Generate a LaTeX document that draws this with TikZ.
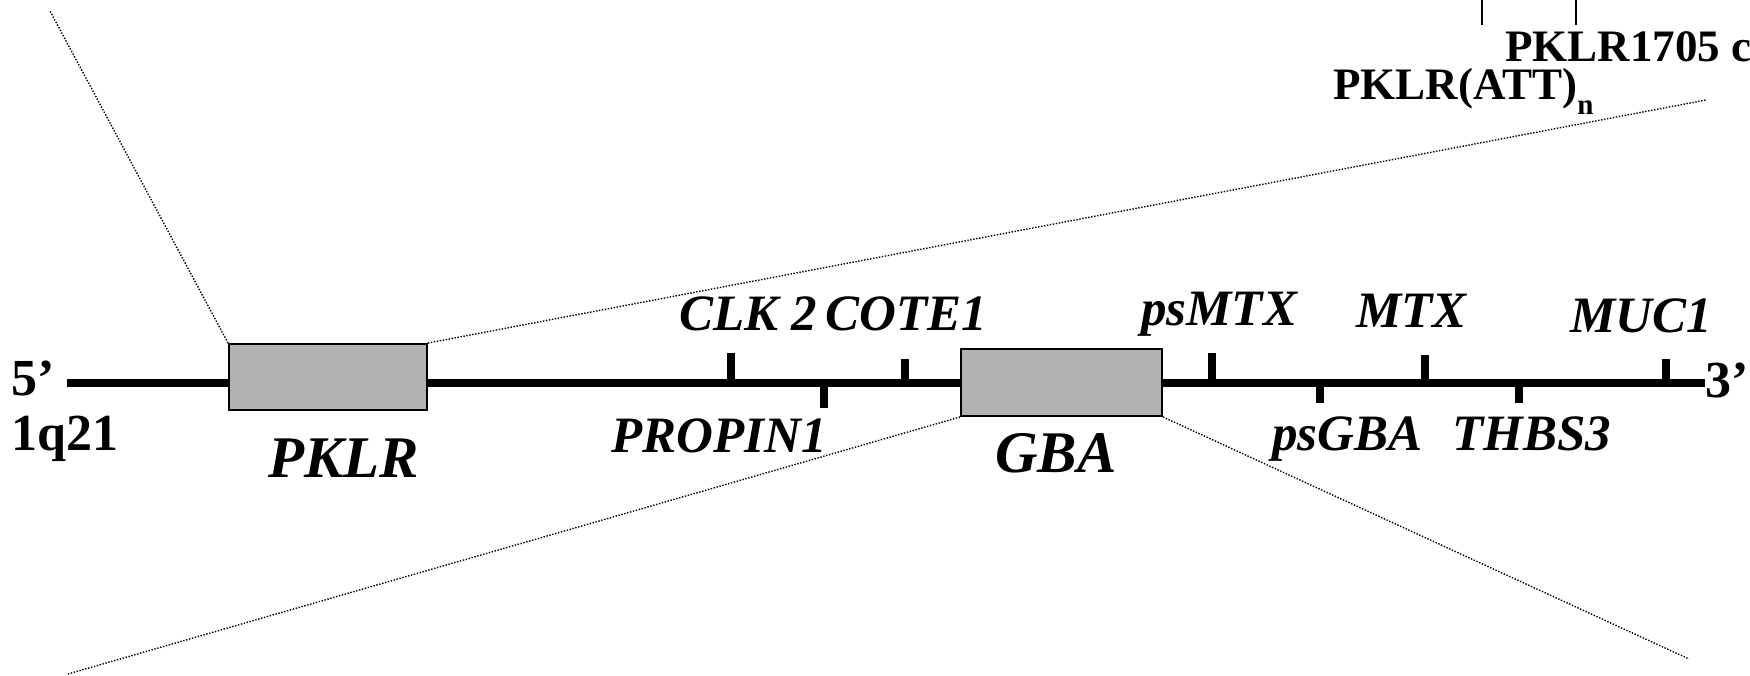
\documentclass[tikz,border=0pt]{standalone}
\usepackage{fontspec}
\setmainfont{Liberation Serif}
\begin{document}
\begin{tikzpicture}[x=1pt,y=-1pt,
  lbl/.style={anchor=base west,inner sep=0pt,font=\fontsize{51}{56}\selectfont\bfseries\itshape},
  biglbl/.style={anchor=base west,inner sep=0pt,font=\fontsize{59}{64}\selectfont\bfseries\itshape},
  endlbl/.style={anchor=base west,inner sep=0pt,font=\fontsize{52}{56}\selectfont\bfseries},
  toplbl/.style={anchor=base west,inner sep=0pt,font=\fontsize{45}{50}\selectfont\bfseries},
  gene/.style={draw=black,line width=2pt,fill={rgb,255:red,178;green,178;blue,178},inner sep=0pt},
  chrom/.style={line width=8.5pt},
  tick/.style={line width=8pt},
  zoomline/.style={line width=1.4pt,dash pattern=on 1.4pt off 1.6pt},
  thin/.style={line width=1.3pt}]
\useasboundingbox (0,0) rectangle (1750,676);
% chromosome line
\coordinate (L) at (67,383);
\coordinate (R) at (1705,383);
\draw[chrom] (L) -- (R);
% genes
\node[gene,minimum width=198pt,minimum height=66pt] (pklr) at (328,377) {};
\node[gene,minimum width=201pt,minimum height=67pt] (gba) at (1061.5,382.5) {};
% ticks
\coordinate (t1a) at (731,383);  \coordinate (t1b) at (731,353);
\coordinate (t2a) at (905,383);  \coordinate (t2b) at (905,359);
\coordinate (t3a) at (824,383);  \coordinate (t3b) at (824,408);
\coordinate (t4a) at (1212,383); \coordinate (t4b) at (1212,353);
\coordinate (t5a) at (1425,383); \coordinate (t5b) at (1425,355);
\coordinate (t6a) at (1666,383); \coordinate (t6b) at (1666,359);
\coordinate (t7a) at (1320,383); \coordinate (t7b) at (1320,403);
\coordinate (t8a) at (1519,383); \coordinate (t8b) at (1519,403);
\foreach \i in {1,...,8} {\draw[tick] (t\i a) -- (t\i b);}
% zoom lines
\coordinate (ul) at (50,11);
\coordinate (ur) at (1706,100);
\coordinate (ll) at (68,674);
\coordinate (lr) at (1689,659);
\draw[zoomline] (pklr.north west) -- (ul);
\draw[zoomline] (pklr.north east) -- (ur);
\draw[zoomline] (gba.south west) -- (ll);
\draw[zoomline] (gba.south east) -- (lr);
% top marker lines
\coordinate (m1a) at (1482,-2); \coordinate (m1b) at (1482,25);
\coordinate (m2a) at (1576,-2); \coordinate (m2b) at (1576,25);
\draw[thin] (m1a) -- (m1b);
\draw[thin] (m2a) -- (m2b);
% labels
\node[endlbl] (five) at (11,395) {5’};
\node[endlbl] (band) at (11,450) {1q21};
\node[endlbl] (three) at (1705,397) {3’};
\node[biglbl] (lpklr) at (268,477) {PKLR};
\node[biglbl] (lgba) at (995,472) {GBA};
\node[lbl] (lclk) at (679,330) {CLK 2};
\node[lbl] (lcote) at (825,330) {COTE1};
\node[lbl] (lpsmtx) at (1141,325) {psMTX};
\node[lbl] (lmtx) at (1356,327) {MTX};
\node[lbl] (lmuc) at (1570,332) {MUC1};
\node[lbl] (lpropin) at (611,452) {PROPIN1};
\node[lbl] (lpsgba) at (1272,450) {psGBA};
\node[lbl] (lthbs) at (1452,450) {THBS3};
\node[toplbl] (l1705) at (1505,62) {PKLR1705 c};
\node[toplbl] (latt) at (1333,100) {PKLR(ATT)\raisebox{-15pt}{\fontsize{29}{30}\selectfont n}};
\end{tikzpicture}
\end{document}
